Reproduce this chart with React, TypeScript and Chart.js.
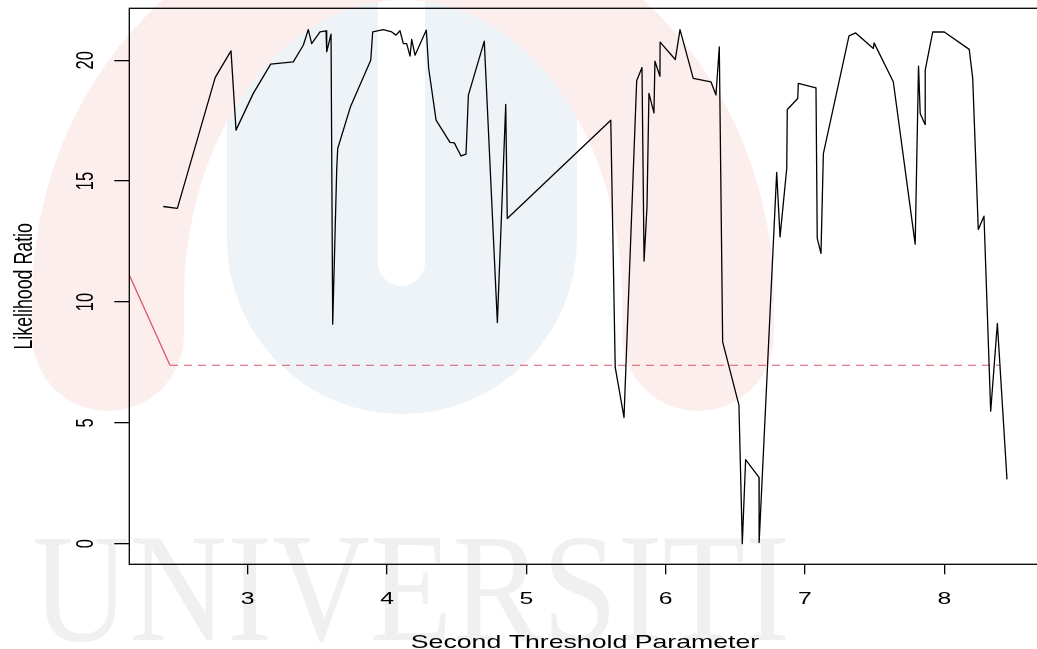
import React, { useEffect, useRef } from "react";
import { Chart, registerables } from "chart.js";

Chart.register(...registerables);

// Profile of the likelihood ratio statistic over the second threshold
const thresholds = [
  2.394, 2.495, 2.767, 2.88, 2.916, 3.04, 3.165, 3.327, 3.399, 3.435, 3.459, 3.519,
  3.562, 3.567, 3.598, 3.61, 3.639, 3.646, 3.739, 3.883, 3.897, 3.973, 4.034, 4.064,
  4.093, 4.117, 4.141, 4.165, 4.177, 4.201, 4.282, 4.299, 4.352, 4.452, 4.483, 4.531,
  4.567, 4.584, 4.698, 4.792, 4.852, 4.863, 5.606, 5.638, 5.701, 5.792, 5.83, 5.845,
  5.866, 5.88, 5.916, 5.923, 5.959, 5.96, 6.069, 6.103, 6.198, 6.325, 6.361, 6.385,
  6.409, 6.526, 6.55, 6.574, 6.67, 6.671, 6.797, 6.821, 6.869, 6.873, 6.948, 6.952,
  7.079, 7.088, 7.115, 7.132, 7.316, 7.364, 7.491, 7.496, 7.634, 7.791, 7.815, 7.827,
  7.862, 7.863, 7.917, 8.0, 8.179, 8.204, 8.244, 8.285, 8.333, 8.381, 8.45,
];
const likelihood = [
  13.95, 13.87, 19.29, 20.39, 17.11, 18.63, 19.84, 19.93, 20.62, 21.27, 20.69, 21.17,
  21.22, 20.35, 21.08, 9.08, 15.52, 16.35, 18.1, 20.0, 21.17, 21.27, 21.17, 21.04,
  21.22, 20.69, 20.69, 20.17, 20.86, 20.21, 21.25, 19.66, 17.52, 16.6, 16.58, 16.04,
  16.12, 18.56, 20.79, 9.15, 18.17, 13.45, 17.52, 7.29, 5.22, 19.15, 19.7, 11.69,
  13.93, 18.63, 17.82, 19.96, 19.34, 20.75, 20.03, 21.27, 19.25, 19.11, 18.56, 20.55,
  8.35, 5.73, 0.0, 3.48, 2.74, 0.05, 15.36, 12.69, 15.52, 17.96, 18.42, 19.04,
  18.86, 12.63, 12.01, 16.14, 21.01, 21.13, 20.49, 20.72, 19.11, 12.39, 19.76, 17.8,
  17.34, 19.59, 21.17, 21.17, 20.45, 19.25, 13.0, 13.55, 5.48, 9.11, 2.66,
];

// Lower segment and the critical value reference line
const lowerX = [2.15, 2.442];
const lowerY = [11.11, 7.38];
const criticalX = [2.442, 8.395];
const criticalY = [7.38, 7.38];

const xTicks = [3, 4, 5, 6, 7, 8];
const yTicks = [0, 5, 10, 15, 20];
const xTitle = "Second Threshold Parameter";
const yTitle = "Likelihood Ratio";
const watermarkText = "UNIVERSITI";

const RED = "#DF536B";
const FONT = '"Liberation Sans", Arial, Helvetica, sans-serif';
const STRETCH = 1.5;

const backdrop = {
  id: "backdrop",
  beforeDraw(chart: any) {
    const ctx = chart.ctx as CanvasRenderingContext2D;
    ctx.save();
    ctx.fillStyle = "#ffffff";
    ctx.fillRect(0, 0, chart.width, chart.height);

    // blue U
    ctx.fillStyle = "#eef3f8";
    ctx.beginPath();
    ctx.moveTo(227, -10);
    ctx.lineTo(227, 239);
    ctx.arc(402, 239, 175, Math.PI, 0, true);
    ctx.lineTo(577, -10);
    ctx.closePath();
    ctx.fill();

    // white slot
    ctx.fillStyle = "#ffffff";
    ctx.beginPath();
    ctx.moveTo(378, -10);
    ctx.lineTo(378, 262.5);
    ctx.arc(401.5, 262.5, 23.5, Math.PI, 0, true);
    ctx.lineTo(425, -10);
    ctx.closePath();
    ctx.fill();

    // red arch
    ctx.fillStyle = "#fdeeee";
    ctx.beginPath();
    ctx.moveTo(32, 335);
    ctx.lineTo(32, 300);
    ctx.ellipse(403, 300, 371, 394, 0, Math.PI, 2 * Math.PI, false);
    ctx.lineTo(774, 335);
    ctx.arc(698, 335, 76, 0, Math.PI, false);
    ctx.lineTo(622, 300);
    ctx.ellipse(403, 300, 219, 300, 0, 0, Math.PI, true);
    ctx.lineTo(184, 335);
    ctx.arc(108, 335, 76, 0, Math.PI, false);
    ctx.closePath();
    ctx.fill();

    // lettering
    ctx.fillStyle = "#f0f0f0";
    ctx.font = '154px "Liberation Serif", "Times New Roman", serif';
    ctx.textBaseline = "alphabetic";
    ctx.textAlign = "left";
    const w = ctx.measureText(watermarkText).width;
    ctx.translate(32, 640);
    ctx.scale(758 / w, 1);
    ctx.fillText(watermarkText, 0, 0);
    ctx.restore();
  },
};

const frame = {
  id: "frame",
  afterDraw(chart: any) {
    const ctx = chart.ctx as CanvasRenderingContext2D;
    const { left, top, right, bottom } = chart.chartArea;
    const xs = chart.scales.x;
    const ys = chart.scales.y;
    ctx.save();
    ctx.strokeStyle = "#000";
    ctx.lineWidth = 1.3;
    ctx.strokeRect(left, top, right - left, bottom - top);

    ctx.fillStyle = "#000";
    ctx.textAlign = "center";
    ctx.textBaseline = "alphabetic";

    ctx.font = `16.5px ${FONT}`;
    xTicks.forEach((v) => {
      ctx.save();
      ctx.translate(xs.getPixelForValue(v), 603.5);
      ctx.scale(STRETCH, 1);
      ctx.fillText(String(v), 0, 0);
      ctx.restore();
    });
    yTicks.forEach((v) => {
      ctx.save();
      ctx.translate(93.3, ys.getPixelForValue(v));
      ctx.scale(STRETCH, 1);
      ctx.rotate(-Math.PI / 2);
      ctx.fillText(String(v), 0, 0);
      ctx.restore();
    });

    ctx.font = `17.8px ${FONT}`;
    ctx.save();
    ctx.translate((left + right) / 2, 648);
    ctx.scale(STRETCH, 1);
    ctx.fillText(xTitle, 0, 0);
    ctx.restore();

    ctx.save();
    ctx.translate(32, (top + bottom) / 2);
    ctx.scale(STRETCH, 1);
    ctx.rotate(-Math.PI / 2);
    ctx.fillText(yTitle, 0, 0);
    ctx.restore();
    ctx.restore();
  },
};

export default function App() {
  const ref = useRef<HTMLCanvasElement>(null);

  useEffect(() => {
    if (!ref.current) return;
    const chart = new Chart(ref.current, {
      type: "line",
      data: {
        datasets: [
          {
            data: thresholds.map((x, i) => ({ x, y: likelihood[i] })),
            borderColor: "#000",
            borderWidth: 1.3,
          },
          {
            data: lowerX.map((x, i) => ({ x, y: lowerY[i] })),
            borderColor: RED,
            borderWidth: 1.3,
          },
          {
            data: criticalX.map((x, i) => ({ x, y: criticalY[i] })),
            borderColor: RED,
            borderWidth: 1.2,
            borderDash: [8, 6],
          },
        ],
      },
      options: {
        responsive: false,
        animation: false,
        layout: { padding: { top: 8.3, right: 1.3, left: 0, bottom: 0 } },
        plugins: { legend: { display: false }, tooltip: { enabled: false } },
        elements: {
          point: { radius: 0 },
          line: { tension: 0, borderJoinStyle: "round", borderCapStyle: "butt" },
        },
        scales: {
          x: {
            type: "linear",
            min: 2.15,
            max: 8.692,
            afterFit: (s: any) => {
              s.height = 84.7;
            },
            afterBuildTicks: (s: any) => {
              s.ticks = xTicks.map((value) => ({ value }));
            },
            ticks: { display: false },
            grid: {
              drawOnChartArea: false,
              drawTicks: true,
              tickLength: 10,
              color: "#000",
              lineWidth: 1.3,
            },
            border: { display: false },
          },
          y: {
            type: "linear",
            min: -0.855,
            max: 22.15,
            afterFit: (s: any) => {
              s.width = 129.3;
            },
            afterBuildTicks: (s: any) => {
              s.ticks = yTicks.map((value) => ({ value }));
            },
            ticks: { display: false },
            grid: {
              drawOnChartArea: false,
              drawTicks: true,
              tickLength: 15,
              color: "#000",
              lineWidth: 1.3,
            },
            border: { display: false },
          },
        },
      },
      plugins: [backdrop, frame],
    });
    return () => chart.destroy();
  }, []);

  return (
    <div
      style={{
        position: "fixed",
        left: 0,
        top: 0,
        width: 1037,
        height: 649,
        overflow: "hidden",
        background: "#fff",
      }}
    >
      <canvas ref={ref} width={1042} height={649} style={{ display: "block" }} />
    </div>
  );
}
